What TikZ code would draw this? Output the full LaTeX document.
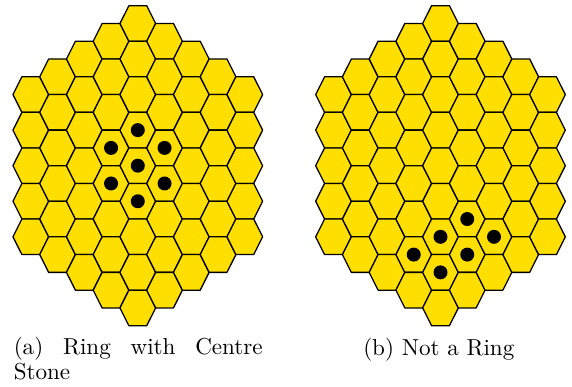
\documentclass[tikz,border=0pt]{standalone}
\usepackage{tikz}
\definecolor{hexfill}{RGB}{255,223,0}
\tikzset{
  hexcell/.style={fill=hexfill, draw=black, line width=0.55pt, line join=round},
  stone/.style={fill=black},
  captext/.style={inner sep=0pt, font=\fontsize{10}{10.5}\selectfont}
}
\begin{document}
\begin{tikzpicture}[x=0.433pt,y=-0.433pt]
\useasboundingbox (0,0) rectangle (572,387);
\def\dx{26.75}\def\R{17.83}\def\Hh{17.78}\def\cy{165.7}
\foreach \cx in {137.8, 440.5} {
  \foreach \q in {-4,...,4} {
    \pgfmathtruncatemacro\rmin{max(-4,-4-\q)}
    \pgfmathtruncatemacro\rmax{min(4,4-\q)}
    \foreach \rr in {\rmin,...,\rmax} {
      \pgfmathsetmacro\xx{\cx+\q*\dx}
      \pgfmathsetmacro\yy{\cy+(2*\rr+\q)*\Hh}
      \draw[hexcell] (\xx+\R,\yy) -- ++(-\R/2,-\Hh) -- ++(-\R,0) -- ++(-\R/2,\Hh) -- ++(\R/2,\Hh) -- ++(\R,0) -- cycle;
    }
  }
}
% stones (a)
\foreach \q/\rr in {0/0,0/-1,0/1,1/-1,1/0,-1/0,-1/1} {
  \fill[stone] (137.8+\q*\dx, \cy+2*\rr*\Hh+\q*\Hh) circle[radius=3.03pt];
}
% stones (b)
\foreach \q/\rr in {0/2,0/3,1/1,1/2,2/1,-1/3} {
  \fill[stone] (440.5+\q*\dx, \cy+2*\rr*\Hh+\q*\Hh) circle[radius=3.03pt];
}
\node[captext, anchor=base west, text width=107.8pt, align=justify] (capa) at (13.3,355) {(a)\hfill Ring\hfill with\hfill Centre\\Stone};
\node[captext, anchor=base] (capb) at (438.8,355.7) {(b) Not a Ring};
\end{tikzpicture}
\end{document}
